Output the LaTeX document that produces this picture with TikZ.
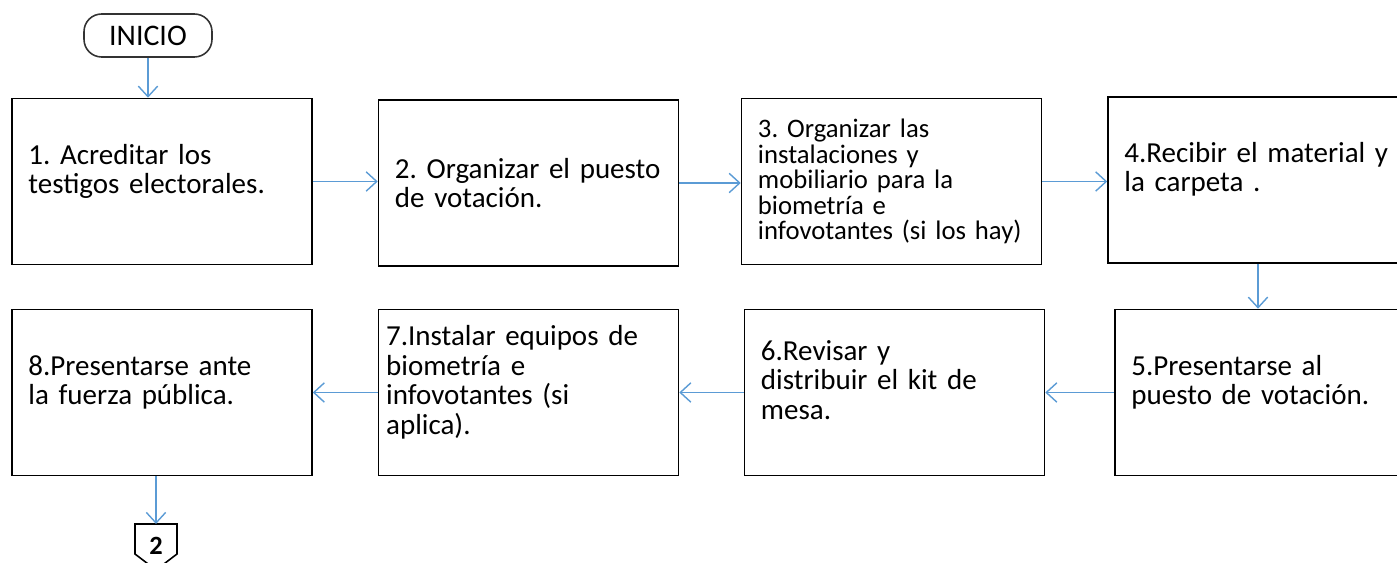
\documentclass[tikz,border=0pt]{standalone}
\usepackage{fontspec}
\setmainfont{Carlito}
\frenchspacing
\usetikzlibrary{arrows.meta}
\definecolor{flecha}{RGB}{91,155,213}
\tikzset{
  paso/.style={draw, line width=0.9pt, minimum width=6cm, minimum height=3.32cm,
    text width=152pt, inner xsep=9pt, align=left,
    font=\fontsize{16.5}{16.8}\selectfont},
  alto/.style={text depth=#1},
  flujo/.style={draw=flecha, line width=0.8pt, -{Straight Barb[length=6pt,width=11pt]}}
}
\begin{document}
\begin{tikzpicture}[x=0.02cm,y=-0.02cm]
  \useasboundingbox (0,0) rectangle (1397,563);
  % inicio
  \node[draw=black!80, line width=0.9pt, rounded corners=10pt, minimum width=2.56cm,
    minimum height=0.86cm, font=\fontsize{17}{18}\selectfont] (inicio) at (148,35.5) {INICIO};

  % primera fila
  \node[paso, alto=31pt] (p1) at (162,181.5) {1. Acreditar los\\testigos electorales.};
  \node[paso] (p2) at (528.5,183) {2. Organizar el puesto\\de votaci\'on.};
  \node[paso, font=\fontsize{15.2}{14.5}\selectfont] (p3) at (891.5,181.5)
    {3. Organizar las\\instalaciones y\\mobiliario para la\\biometr\'ia e\\infovotantes (si los hay)};
  \node[paso, alto=31.5pt] (p4) at (1258,180) {4.Recibir el material y\\la carpeta .};

  % segunda fila
  \node[paso, alto=31pt] (p5) at (1265,392.5) {5.Presentarse al\\puesto de votaci\'on.};
  \node[paso, alto=48pt] (p6) at (894.5,392.5) {6.Revisar y\\distribuir  el kit de\\mesa.};
  \node[paso, alto=64.5pt, inner xsep=4pt, text width=162pt] (p7) at (528.5,392.5)
    {7.Instalar equipos de\\biometr\'ia e\\infovotantes (si\\aplica).};
  \node[paso, alto=31pt] (p8) at (162,392.5) {8.Presentarse ante\\la fuerza p\'ublica.};

  % conector de pagina
  \node[font=\bfseries\fontsize{15}{16}\selectfont] (sigue) at (156,546) {2};
  \draw[line width=0.9pt] ([shift={(-21,-22)}]sigue.center) -- ([shift={(21,-22)}]sigue.center)
    -- ([shift={(21,8)}]sigue.center) -- ([shift={(0,24)}]sigue.center)
    -- ([shift={(-21,8)}]sigue.center) -- cycle;
  \coordinate (sigue-arriba) at ([shift={(0,-22)}]sigue.center);

  % flechas
  \draw[flujo] (inicio.south) -- (inicio.south |- p1.north);
  \draw[flujo] (p1.east) -- (p2.west |- p1.east);
  \draw[flujo] (p2.east) -- (p3.west |- p2.east);
  \draw[flujo] (p3.east) -- (p4.west |- p3.east);
  \draw[flujo] (p4.south) -- (p4.south |- p5.north);
  \draw[flujo] (p5.west) -- (p6.east);
  \draw[flujo] (p6.west) -- (p7.east);
  \draw[flujo] (p7.west) -- (p8.east);
  \draw[flujo] (sigue-arriba |- p8.south) -- (sigue-arriba);
\end{tikzpicture}
\end{document}
